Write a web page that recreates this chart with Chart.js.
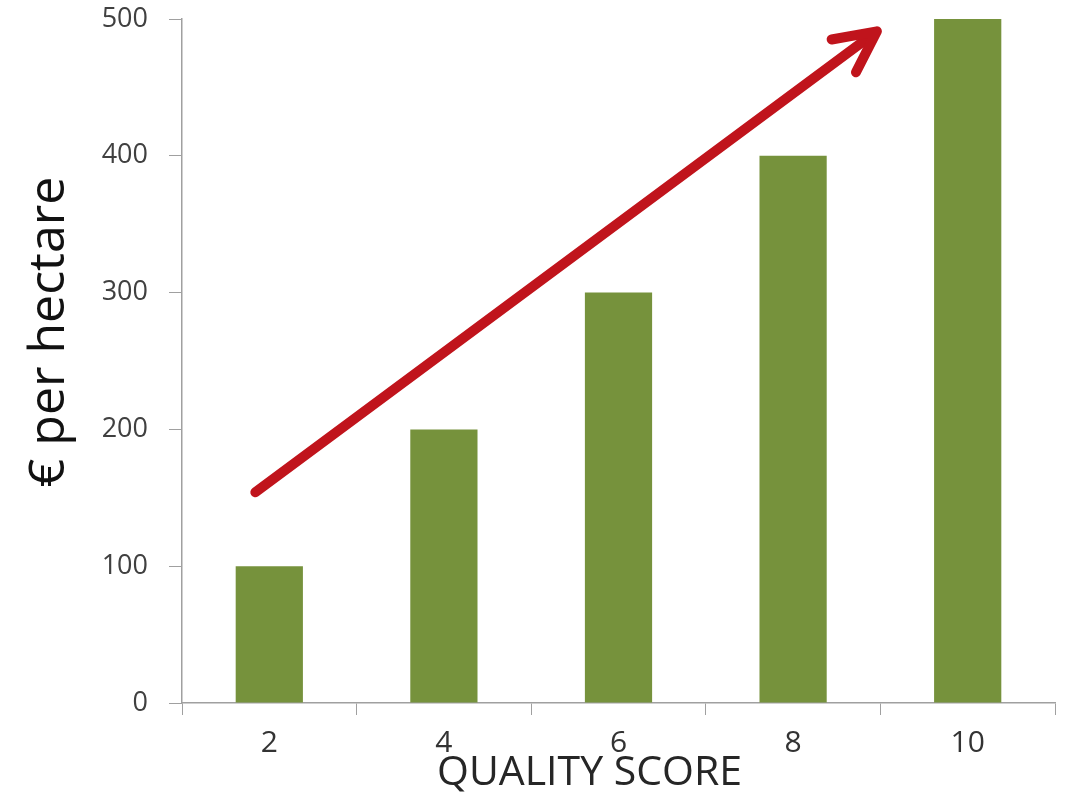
<!DOCTYPE html>
<html>
<head>
<meta charset="utf-8">
<script src="https://cdn.jsdelivr.net/npm/chart.js@4/dist/chart.umd.min.js"></script>
<style>
html,body{margin:0;padding:0;background:#fff;}
#wrap{width:1069px;height:794px;position:relative;}
</style>
</head>
<body>
<div id="wrap"><canvas id="c"></canvas></div>
<script>
const categories = ["2", "4", "6", "8", "10"];
const values = [100, 200, 300, 400, 500];
const yMin = 0, yMax = 500, yStep = 100;
const xTitle = "QUALITY SCORE";
const yTitle = "€ per hectare";
// trend arrow in data coordinates: [category index, value]
const arrowStart = [-0.08, 154];
const arrowEnd = [3.48, 491];

const FONT = 'Open Sans';

const arrowPlugin = {
  id: 'trendArrow',
  afterDatasetsDraw(chart) {
    const {ctx, scales:{x, y}} = chart;
    const x1 = x.getPixelForValue(arrowStart[0]), y1 = y.getPixelForValue(arrowStart[1]);
    const x2 = x.getPixelForValue(arrowEnd[0]), y2 = y.getPixelForValue(arrowEnd[1]);
    const ang = Math.atan2(y2 - y1, x2 - x1);
    const head = 46, spread = 0.46;
    ctx.save();
    ctx.strokeStyle = '#C0141C';
    ctx.lineWidth = 10;
    ctx.lineCap = 'round';
    ctx.lineJoin = 'round';
    ctx.beginPath();
    ctx.moveTo(x1, y1);
    ctx.lineTo(x2 - 5*Math.cos(ang), y2 - 5*Math.sin(ang));
    ctx.stroke();
    ctx.beginPath();
    ctx.moveTo(x2 - head*Math.cos(ang - spread), y2 - head*Math.sin(ang - spread));
    ctx.lineTo(x2, y2);
    ctx.lineTo(x2 - head*Math.cos(ang + spread), y2 - head*Math.sin(ang + spread));
    ctx.stroke();
    ctx.restore();
  }
};

const titlePlugin = {
  id: 'axisTitles',
  afterDraw(chart) {
    const {ctx, chartArea} = chart;
    ctx.save();
    ctx.textAlign = 'center';
    ctx.textBaseline = 'middle';
    // x title
    ctx.fillStyle = '#262626';
    ctx.font = '41px "' + FONT + '"';
    ctx.fillText(xTitle, (chartArea.left + chartArea.right) / 2 - 29, chartArea.bottom + 70);
    // y title
    ctx.fillStyle = '#111111';
    ctx.font = '50px "' + FONT + '"';
    ctx.translate(50, (chartArea.top + chartArea.bottom) / 2 - 29);
    ctx.rotate(-Math.PI / 2);
    ctx.fillText(yTitle, 0, 0);
    ctx.restore();
  }
};

new Chart(document.getElementById('c'), {
  type: 'bar',
  data: {
    labels: categories,
    datasets: [{
      data: values,
      backgroundColor: '#76923C',
      borderWidth: 0,
      categoryPercentage: 1.0,
      barPercentage: 0.385
    }]
  },
  options: {
    responsive: true,
    maintainAspectRatio: false,
    animation: false,
    devicePixelRatio: 1,
    layout: { padding: { top: 19, right: 14, left: 0, bottom: 0 } },
    plugins: { legend: { display: false }, tooltip: { enabled: false } },
    scales: {
      x: {
        grid: { drawOnChartArea: false, drawTicks: true, tickLength: 12, color: '#a0a0a0', offset: true },
        border: { display: true, color: '#a0a0a0', width: 1.5 },
        ticks: { color: '#333333', font: { family: FONT, size: 30 }, padding: 10, maxRotation: 0 },
        title: { display: false },
        afterFit(s) { s.height = 91; s.paddingLeft = 0; s.paddingRight = 0; }
      },
      y: {
        min: yMin, max: yMax,
        grid: { drawOnChartArea: false, drawTicks: true, tickLength: 13, color: '#a0a0a0' },
        border: { display: true, color: '#a0a0a0', width: 1.5 },
        ticks: { stepSize: yStep, color: '#404040', font: { family: FONT, size: 27 }, padding: 21 },
        title: { display: false },
        afterFit(s) { s.width = 182; s.paddingTop = 0; s.paddingBottom = 0; }
      }
    }
  },
  plugins: [arrowPlugin, titlePlugin]
});
</script>
</body>
</html>
